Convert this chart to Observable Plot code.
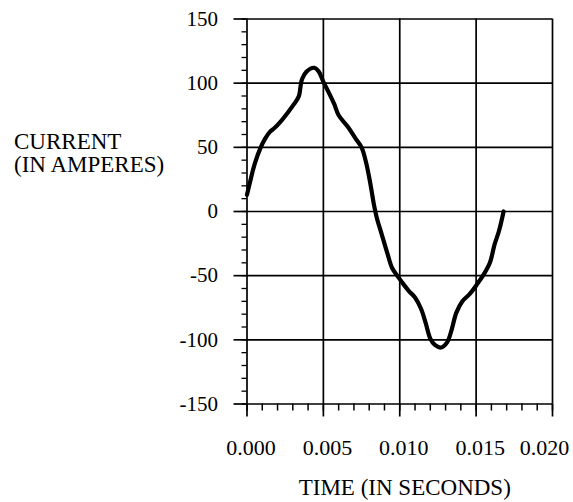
<!DOCTYPE html>
<html>
<head>
<meta charset="utf-8">
<script src="https://cdn.jsdelivr.net/npm/d3@7"></script>
<script src="https://cdn.jsdelivr.net/npm/@observablehq/plot@0.6"></script>
<style>
  html, body { margin: 0; padding: 0; background: #fff; }
  #chart { width: 573px; height: 502px; }
</style>
</head>
<body>
<div id="chart"></div>
<script>
// Data
const timeSeconds = [0.0000, 0.0002, 0.0005, 0.0009, 0.0012, 0.0015, 0.0018, 0.0022, 0.0026, 0.0031,
  0.0034, 0.0035, 0.0036, 0.0039, 0.0044, 0.0047, 0.0050, 0.0053, 0.0057, 0.0060,
  0.0066, 0.0071, 0.0075, 0.0078, 0.0081, 0.0083, 0.0085, 0.0088, 0.0092, 0.0095,
  0.0099, 0.0102, 0.0106, 0.0110, 0.0114, 0.0117, 0.0120, 0.0123, 0.0127, 0.0131,
  0.0134, 0.0137, 0.0141, 0.0146, 0.0151, 0.0155, 0.0159, 0.0162, 0.0165, 0.0168];
const currentAmperes = [13, 23, 37, 50, 57, 62, 65, 70, 76, 84,
  90, 97, 103, 109, 112, 109, 101, 94, 84, 75,
  66, 57, 50, 38, 20, 6, -5, -17, -33, -44,
  -51, -56, -62, -67, -76, -87, -99, -104, -106, -102,
  -92, -79, -70, -64, -56, -49, -40, -26, -15, 0];

const xTicks = [0, 0.005, 0.010, 0.015, 0.020];
const xTickLabels = ["0.000", "0.005", "0.010", "0.015", "0.020"];
const yTicks = [-150, -100, -50, 0, 50, 100, 150];
const yTickLabels = ["-150", "-100", "-50", "0", "50", "100", "150"];
const xTitle = "TIME (IN SECONDS)";
const yTitle = "CURRENT\n(IN AMPERES)";

const xMinor = d3.range(0, 0.0205, 0.001);
const yMinor = d3.range(-150, 151, 10);

const points = timeSeconds.map((t, i) => ({t, v: currentAmperes[i]}));
const font = "'Liberation Serif', 'Times New Roman', 'DejaVu Serif', serif";

const chart = Plot.plot({
  width: 573,
  height: 502,
  marginLeft: 246.5,
  marginRight: 21,
  marginTop: 18.5,
  marginBottom: 98.5,
  style: {background: "#fff", color: "#000", fontSize: "21px"},
  x: {domain: [0, 0.02], label: null},
  y: {domain: [-150, 150], label: null},
  marks: [
    // grid / frame lines
    Plot.ruleY(yTicks, {stroke: "#000", strokeWidth: 1.7}),
    Plot.ruleX(xTicks, {stroke: "#000", strokeWidth: 1.7}),
    // minor ticks
    Plot.axisY({ticks: yMinor, tickSize: 5, tickFormat: () => "", stroke: "#000", strokeWidth: 1.3, label: null}),
    Plot.axisX({ticks: xMinor, tickSize: 7, tickFormat: () => "", stroke: "#000", strokeWidth: 1.5, label: null}),
    // major ticks + y labels
    Plot.axisY({ticks: yTicks, tickSize: 13, tickPadding: 16, strokeWidth: 1.7,
      tickFormat: (d) => yTickLabels[yTicks.indexOf(d)], fontSize: 21, label: null}),
    Plot.axisX({ticks: xTicks, tickSize: 13, tickFormat: () => "", strokeWidth: 1.7, label: null}),
    // x tick labels
    Plot.text(xTicks.slice(0, 4), {x: (d) => d, text: (d, i) => xTickLabels[i], frameAnchor: "bottom",
      dy: 44, dx: 4, lineAnchor: "middle", fontSize: 22, fill: "#000"}),
    Plot.text(xTicks.slice(4), {x: (d) => d, text: (d, i) => xTickLabels[4 + i], frameAnchor: "bottom",
      dy: 44, dx: -8, lineAnchor: "middle", fontSize: 22, fill: "#000"}),
    // titles
    Plot.text([xTitle], {frameAnchor: "bottom", dy: 84, dx: 5, lineAnchor: "middle", fontSize: 23, fill: "#000"}),
    Plot.text([yTitle], {frameAnchor: "top-left", dx: -233, dy: 114, textAnchor: "start", lineAnchor: "top",
      lineHeight: 1.0, fontSize: 23, fill: "#000"}),
    // the current waveform
    Plot.line(points, {x: "t", y: "v", stroke: "#000", strokeWidth: 4.2, curve: "catmull-rom"})
  ]
});
chart.style.fontFamily = font;
chart.setAttribute("font-family", font);
chart.querySelectorAll("g, text, tspan").forEach((el) => {
  el.removeAttribute("font-family");
  el.style.fontFamily = font;
});
document.getElementById("chart").append(chart);
</script>
</body>
</html>
